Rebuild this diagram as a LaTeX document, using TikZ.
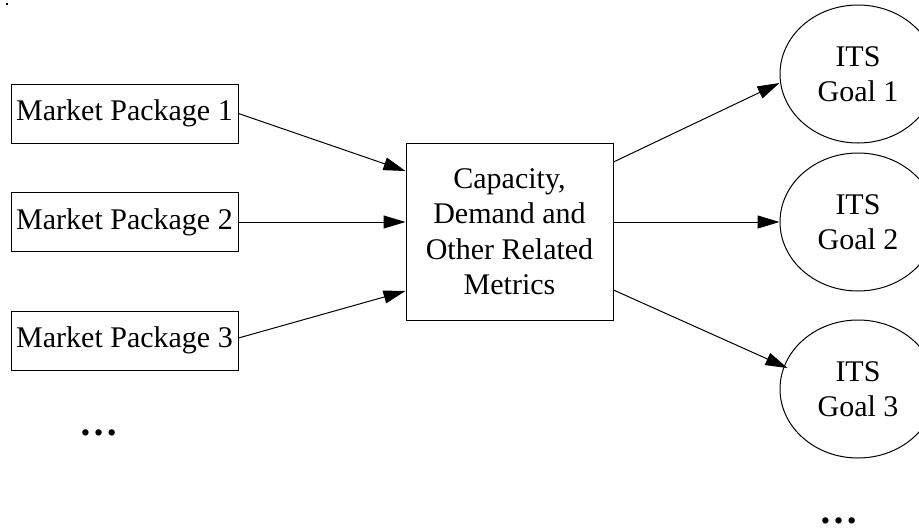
\documentclass[tikz,border=0pt]{standalone}
\usepackage{fontspec}
\setmainfont{Liberation Serif}
\usetikzlibrary{shapes.geometric,arrows.meta}
\begin{document}
\begin{tikzpicture}[x=1pt,y=-1pt,
  every node/.style={font=\fontsize{30}{35.5}\selectfont, inner sep=0pt},
  pkg/.style={draw, line width=1pt, rectangle, minimum width=227pt, minimum height=59pt},
  metric/.style={draw, line width=1pt, rectangle, minimum width=207pt, minimum height=177pt, align=center},
  goal/.style={draw, line width=1pt, ellipse, minimum width=156pt, minimum height=138pt, align=center},
  dots/.style={font=\fontsize{39}{39}\selectfont\bfseries},
  arr/.style={line width=1pt, -{Triangle[length=22pt,width=13pt]}}]
\useasboundingbox (0,0) rectangle (919,531);
\clip (0,0) rectangle (919,531);
\fill (6,3) rectangle (7.5,4.5);
\node[pkg] (mp1) at (124.5,113.5) {Market Package 1};
\node[pkg] (mp2) at (124.5,222) {Market Package 2};
\node[pkg] (mp3) at (124.5,340.5) {Market Package 3};
\node[dots] (ldots) at (99,433) {…};
\node[metric] (cm) at (509.5,231.5) {Capacity,\\Demand and\\Other Related\\Metrics};
\node[goal] (g1) at (858,74) {ITS\\Goal 1};
\node[goal] (g2) at (858,222) {ITS\\Goal 2};
\node[goal] (g3) at (858,389) {ITS\\Goal 3};
\node[dots] (rdots) at (839,521) {…};
\draw[arr] (mp1.east) -- ([yshift=60.5pt]cm.west);
\draw[arr] (mp2.east) -- (cm.west |- mp2.east);
\draw[arr] ([yshift=2.5pt]mp3.east) -- ([yshift=-59.5pt]cm.west);
\draw[arr] ([yshift=69.5pt]cm.east) -- ([yshift=-9pt]g1.west);
\draw[arr] (cm.east |- g2.west) -- (g2.west);
\draw[arr] ([yshift=-58.5pt]cm.east) -- ([xshift=8pt,yshift=21pt]g3.west);
\end{tikzpicture}
\end{document}
